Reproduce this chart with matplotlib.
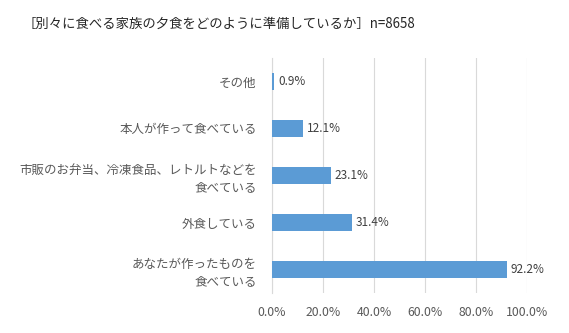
import matplotlib
matplotlib.use("Agg")
from matplotlib import pyplot as plt
from matplotlib.ticker import FuncFormatter

plt.rcParams["font.family"] = ["Noto Sans CJK JP", "DejaVu Sans"]

title = "［別々に食べる家族の夕食をどのように準備しているか］n=8658"
categories = ["あなたが作ったものを\n食べている",
              "外食している",
              "市販のお弁当、冷凍食品、レトルトなどを\n食べている",
              "本人が作って食べている",
              "その他"]
values = [92.2, 31.4, 23.1, 12.1, 0.9]
xticks = [0, 20, 40, 60, 80, 100]

fig = plt.figure(figsize=(5.69, 3.33), dpi=100)
ax = fig.add_axes([0.478, 0.12, 0.448, 0.706])

pos = range(len(categories))
ax.barh(pos, values, height=0.36, color="#5B9BD5", zorder=3)
for p, v in zip(pos, values):
    ax.text(v + 1.5, p, f"{v:.1f}%", va="center", ha="left", fontsize=8.5, color="#404040")

ax.set_xlim(0, 100)
ax.set_ylim(-0.5, len(categories) - 0.5)
ax.set_xticks(xticks)
ax.xaxis.set_major_formatter(FuncFormatter(lambda x, _: f"{x:.1f}%"))
ax.set_yticks(list(pos))
ax.set_yticklabels(categories, fontsize=9, color="#595959", linespacing=1.4)
ax.tick_params(axis="x", labelsize=8.8, labelcolor="#595959", length=0, pad=9)
ax.tick_params(axis="y", length=0, pad=11)
ax.grid(axis="x", color="#D9D9D9", linewidth=0.8, zorder=0)
for s in ["top", "right", "bottom"]:
    ax.spines[s].set_visible(False)
ax.spines["left"].set_color("#D9D9D9")

fig.text(0.04, 0.93, title, fontsize=9.6, color="#262626", va="center", ha="left")

fig.savefig("out.png", dpi=100)
